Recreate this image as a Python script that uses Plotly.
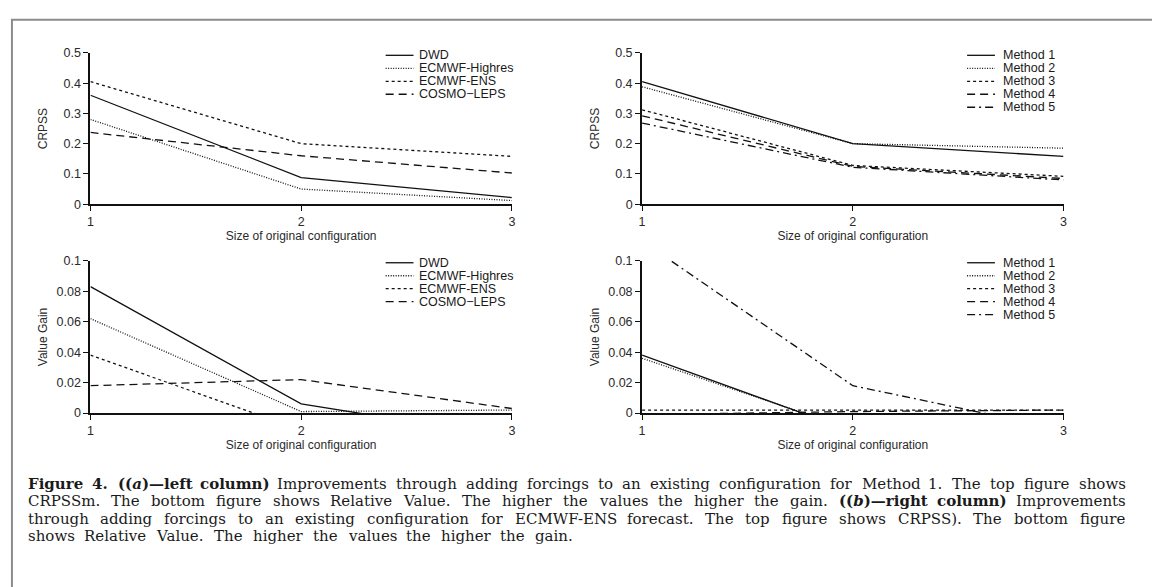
import re
import plotly.graph_objects as go

W, H = 1152, 587

# ---------------- data ----------------
sizes = [1, 2, 3]

models = ["DWD", "ECMWF-Highres", "ECMWF-ENS", "COSMO\u2212LEPS"]
crpss_models = {
    "DWD": [0.360, 0.088, 0.022],
    "ECMWF-Highres": [0.280, 0.050, 0.012],
    "ECMWF-ENS": [0.405, 0.200, 0.158],
    "COSMO\u2212LEPS": [0.237, 0.160, 0.103],
}
gain_models = {
    "DWD": [0.083, 0.006, -0.016],
    "ECMWF-Highres": [0.062, 0.001, 0.002],
    "ECMWF-ENS": [0.038, -0.011, -0.010],
    "COSMO\u2212LEPS": [0.018, 0.022, 0.003],
}

methods = ["Method 1", "Method 2", "Method 3", "Method 4", "Method 5"]
crpss_methods = {
    "Method 1": [0.405, 0.200, 0.158],
    "Method 2": [0.388, 0.200, 0.185],
    "Method 3": [0.312, 0.128, 0.092],
    "Method 4": [0.292, 0.125, 0.085],
    "Method 5": [0.268, 0.122, 0.080],
}
gain_methods = {
    "Method 1": [0.038, -0.012, -0.012],
    "Method 2": [0.036, -0.011, -0.011],
    "Method 3": [0.002, 0.002, 0.002],
    "Method 4": [-0.001, 0.001, 0.002],
    "Method 5": [0.113, 0.018, -0.011],
}

crpss_ticks = [0, 0.1, 0.2, 0.3, 0.4, 0.5]
crpss_ticktext = ["0", "0.1", "0.2", "0.3", "0.4", "0.5"]
gain_ticks = [0, 0.02, 0.04, 0.06, 0.08, 0.1]
gain_ticktext = ["0", "0.02", "0.04", "0.06", "0.08", "0.1"]

x_title = "Size of original configuration"

caption_lines = [
    "<b>Figure 4.</b>  <b>((<i>a</i>)\u2014left column)</b> Improvements through adding forcings to an existing configuration for Method 1. The top figure shows",
    "CRPSSm. The bottom figure shows Relative Value. The higher the values the higher the gain. <b>((<i>b</i>)\u2014right column)</b> Improvements",
    "through adding forcings to an existing configuration for ECMWF-ENS forecast. The top figure shows CRPSS). The bottom figure",
    "shows Relative Value. The higher the values the higher the gain.",
]

# ---------------- styles ----------------
dash_models = {
    "DWD": "solid",
    "ECMWF-Highres": "1px,1.5px",
    "ECMWF-ENS": "3px,3px",
    "COSMO\u2212LEPS": "8px,5px",
}
dash_methods = {
    "Method 1": "solid",
    "Method 2": "1px,1.5px",
    "Method 3": "3px,3px",
    "Method 4": "8px,5px",
    "Method 5": "8px,4px,2px,4px",
}

def px_x(p):
    return p / W

def px_y(p):
    return 1 - p / H

# plot areas in pixels (left, right, top, bottom)
areas = {
    1: (88, 512, 47, 202),
    2: (643, 1067, 47, 202),
    3: (88, 512, 260, 416),
    4: (643, 1067, 260, 416),
}

fig = go.Figure()

panels = [
    (1, models, crpss_models, dash_models, [0, 0.5], crpss_ticks, crpss_ticktext, "CRPSS"),
    (2, methods, crpss_methods, dash_methods, [0, 0.5], crpss_ticks, crpss_ticktext, "CRPSS"),
    (3, models, gain_models, dash_models, [0, 0.1], gain_ticks, gain_ticktext, "Value Gain"),
    (4, methods, gain_methods, dash_methods, [0, 0.1], gain_ticks, gain_ticktext, "Value Gain"),
]

SANS = "Liberation Sans, Arial, sans-serif"
tick_font = dict(family=SANS, size=12.5, color="#2a2a2a")
title_font = dict(family=SANS, size=12, color="#2a2a2a")

shapes = []
annotations = []

for idx, names, data, dashes, yr, tv, tt, ytitle in panels:
    l, r, t, b = areas[idx]
    sfx = "" if idx == 1 else str(idx)
    for n in names:
        fig.add_trace(go.Scatter(
            x=sizes, y=data[n], mode="lines", name=n,
            line=dict(color="#111111", width=1.3, dash=dashes[n]),
            xaxis="x" + sfx, yaxis="y" + sfx, showlegend=False,
            hoverinfo="skip",
        ))
    fig.layout["xaxis" + sfx] = dict(
        domain=[px_x(l), px_x(r)], range=[1, 3], anchor="y" + sfx,
        tickvals=sizes, ticktext=[str(s) for s in sizes],
        showline=True, linecolor="#111111", linewidth=2,
        ticks="outside", ticklen=5, tickwidth=1.2, tickcolor="#111111",
        showgrid=False, zeroline=False, tickfont=tick_font,
        title=dict(text=x_title, font=title_font, standoff=0),
        fixedrange=True,
    )
    fig.layout["yaxis" + sfx] = dict(
        domain=[px_y(b), px_y(t)], range=yr, anchor="x" + sfx,
        tickvals=tv, ticktext=tt,
        showline=True, linecolor="#111111", linewidth=2,
        ticks="outside", ticklen=5, tickwidth=1.2, tickcolor="#111111",
        showgrid=False, zeroline=False, tickfont=tick_font,
        title=dict(text=ytitle, font=title_font, standoff=(13 if ytitle == "CRPSS" else 6)),
        fixedrange=True,
    )

    # manual legend (keys drawn as short line samples)
    if idx in (1, 3):
        lx0, lx1, tx = 385, 413, 418
    else:
        lx0, lx1, tx = 970, 998, 1005
    y0 = 49.5 if idx in (1, 2) else 262
    step = 13.3
    for k, n in enumerate(names):
        yy = y0 + k * step
        shapes.append(dict(
            type="line", xref="paper", yref="paper",
            x0=px_x(lx0), x1=px_x(lx1), y0=px_y(yy), y1=px_y(yy),
            line=dict(color="#111111", width=1.3, dash=dashes[n]),
        ))
        annotations.append(dict(
            xref="paper", yref="paper", x=px_x(tx), y=px_y(yy),
            xanchor="left", yanchor="middle", text=n, showarrow=False,
            font=dict(family=SANS, size=12.5, color="#1a1a1a"),
            borderpad=0,
        ))

# frame
shapes.append(dict(
    type="rect", xref="paper", yref="paper",
    x0=px_x(9), x1=px_x(1175), y0=px_y(13), y1=px_y(620),
    line=dict(color="#8c8c8c", width=2), layer="below",
))

# ---------------- caption (justified word by word) ----------------
# approximate DejaVu Serif advance widths (units per em = 2048), used to space the words
DR = {' ': 651, '(': 799, ')': 799, '.': 651, ',': 651, '-': 692, '\u2014': 2048,
      '1': 1303, '4': 1303,
      'C': 1474, 'E': 1497, 'F': 1413, 'I': 764, 'M': 1954, 'N': 1659, 'P': 1382,
      'R': 1554, 'S': 1403, 'T': 1413, 'V': 1499, 'W': 2142,
      'a': 1221, 'b': 1311, 'c': 1126, 'd': 1311, 'e': 1212, 'f': 760, 'g': 1311,
      'h': 1319, 'i': 657, 'l': 657, 'm': 1980, 'n': 1319, 'o': 1233, 'p': 1311,
      'r': 979, 's': 1051, 't': 823, 'u': 1319, 'v': 1159, 'w': 1712, 'x': 1159,
      'y': 1159}
DB = {k: v * 1.1 for k, v in DR.items()}
DBI = dict(DB)

def word_width(html, bold_in, ital_in):
    bold, ital = bold_in, ital_in
    w = 0
    for tok in re.findall(r"</?[bi]>|[^<]", html):
        if tok == "<b>":
            bold = True
        elif tok == "</b>":
            bold = False
        elif tok == "<i>":
            ital = True
        elif tok == "</i>":
            ital = False
        else:
            table = DBI if (bold and ital) else (DB if bold else DR)
            w += table.get(tok, 1250)
    return w, bold, ital

def split_words(line):
    words = []
    bold = ital = False
    for raw in [p for p in line.split(" ") if p != ""]:
        pre = ("<b>" if bold else "") + ("<i>" if ital else "")
        w, nb, ni = word_width(raw, bold, ital)
        post = ("</i>" if ni else "") + ("</b>" if nb else "")
        html = (pre + raw + post).replace("<b></b>", "").replace("<i></i>", "")
        words.append((html, w))
        bold, ital = nb, ni
    return words

CAP_FONT = 15
cap_left = 24
cap_right = [1128, 1128, 1128, 572]
cap_y = [489, 506.5, 524, 541.5]
for line, yy, right in zip(caption_lines, cap_y, cap_right):
    words = split_words(line)
    widths = [w * CAP_FONT / 2048 for _, w in words]
    gap = (right - cap_left - sum(widths)) / (len(words) - 1)
    x = cap_left
    for (html, _), w in zip(words, widths):
        annotations.append(dict(
            xref="paper", yref="paper", x=px_x(x), y=px_y(yy),
            xanchor="left", yanchor="middle", text=html, showarrow=False,
            font=dict(family="DejaVu Serif, serif", size=CAP_FONT, color="#1a1a1a"),
            borderpad=0,
        ))
        x += w + gap

fig.update_layout(
    width=W, height=H,
    margin=dict(l=0, r=0, t=0, b=0),
    paper_bgcolor="white", plot_bgcolor="white",
    shapes=shapes, annotations=annotations,
    showlegend=False,
)

fig.write_html(
    "out.html",
    config={"displayModeBar": False},
    post_script="document.body.style.margin='0';document.body.style.padding='0';document.body.style.overflow='hidden';",
)
